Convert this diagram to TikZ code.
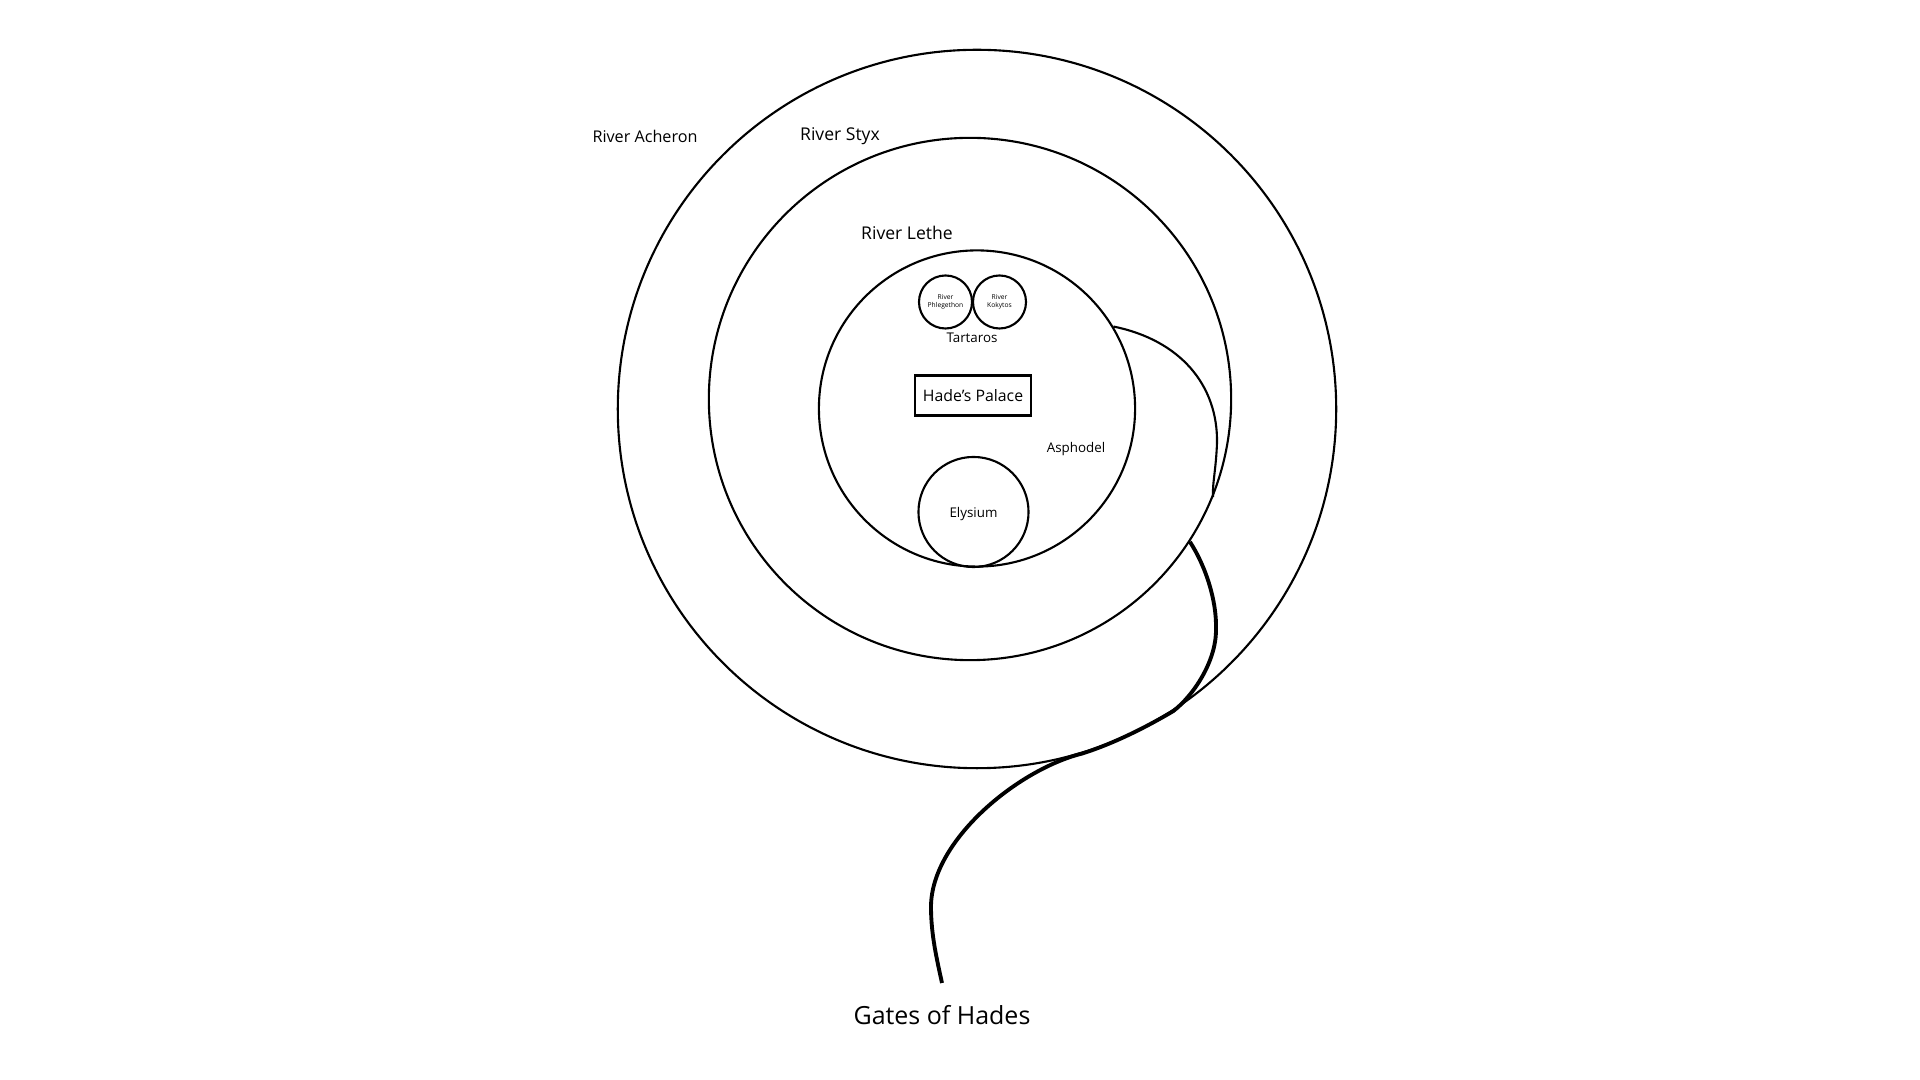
\documentclass[tikz,border=0pt]{standalone}
\usepackage{fontspec}
\setmainfont{Open Sans}
\usepackage{tikz}

\begin{document}
\begin{tikzpicture}[x=0.01cm, y=-0.01cm,
	ring/.style={draw, circle, line width=0.6pt, inner sep=0pt},
	lbl/.style={inner sep=0pt, font=\fontsize{#1}{#1}\selectfont},
	lbl/.default=4.6]
	\useasboundingbox (0,0) rectangle (1920,1080);
	%\draw[help lines] (0,0) grid[step=100] (1920,1080);
	\node[ring, minimum size=7.18cm] (acheron) at (977,409) {};
	\node[ring, minimum size=5.22cm] (styx) at (970,399) {};
	\node[ring, minimum size=3.16cm] (lethe) at (977,408.5) {};
	\node[ring, minimum size=1.10cm] (elysium) at (973.5,512) {};
	\node[ring, minimum size=0.53cm, align=center, font=\fontsize{1.9}{2.3}\selectfont] (phleg) at (945.5,302) {River\\Phlegethon};
	\node[ring, minimum size=0.53cm, align=center, font=\fontsize{1.9}{2.3}\selectfont] (koky) at (999.5,302) {River\\Kokytos};
	\node[draw, line width=0.75pt, minimum width=1.16cm, minimum height=0.40cm, inner sep=1pt, font=\fontsize{4.5}{5}\selectfont] (palace) at (973,395.5) {Hade’s Palace};

	\node[lbl] at (645,136) {River Acheron};
	\node[lbl=5] at (840,136) {River Styx};
	\node[lbl=5] at (907,233) {River Lethe};
	\node[lbl=3.8] at (972,337.5) {Tartaros};
	\node[lbl=3.8] at (1076,449) {Asphodel};
	\node[lbl=3.8] at (973.5,514) {Elysium};
	\node[lbl=7.1] (gates) at (942,1015) {Gates of Hades};

	% river from lethe out to the gates
	\draw[line width=0.6pt] (lethe.31) .. controls (1180,340) and (1218,385) .. (1217,443)
		.. controls (1216,470) and (1212,485) .. (styx.-22.5);
	\draw[line width=1.1pt] (styx.-33) .. controls (1205,565) and (1217,600) .. (1216,630)
		.. controls (1216,662) and (1193,696) .. (acheron.-57)
		.. controls (1143,729) and (1112,744) .. (acheron.-73.6)
		.. controls (1019,769) and (931,840) .. (931,907)
		.. controls (931,935) and (937,960) .. (942,983);
\end{tikzpicture}
\end{document}
